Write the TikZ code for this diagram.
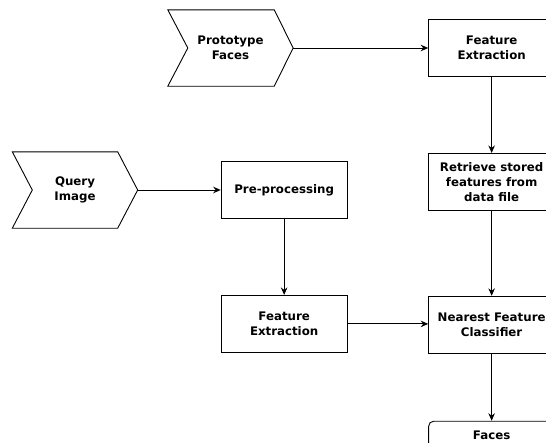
\documentclass[tikz,border=0pt]{standalone}
\usepackage{fontspec}
\setmainfont{DejaVu Sans}
\usetikzlibrary{arrows.meta,positioning}

\begin{document}
\begin{tikzpicture}[x=1pt, y=-1pt,
        every node/.style={font=\fontsize{11.8}{15}\selectfont\bfseries, align=center},
        FRS/.style={rectangle, draw=black, line width=0.9pt, minimum width=126pt, minimum height=57pt, inner sep=2pt},  % face recognition step
        Input/.style={rectangle, minimum width=125pt, minimum height=76pt, inner sep=0pt},
        Line/.style={draw=black, line width=0.9pt},
        >={Stealth[length=7.5pt, width=6.5pt]},
    ]
        \useasboundingbox (0,0) rectangle (546,442);
        \clip (0,0) rectangle (546,442);

        %Nodes
        \node[Input] (Proto) at (230.5,48) {Prototype\\Faces};
        \node[FRS] (FeatTop) [right=135pt of Proto] {Feature\\Extraction};
        \node[FRS] (Retrieve) [below=76pt of FeatTop] {Retrieve stored\\features from\\data file};
        \node[FRS] (Nearest) [below=85pt of Retrieve] {Nearest Feature\\Classifier};
        \node[FRS, rounded corners=5pt, text height=16pt, text depth=45pt] (Faces) [below=67pt of Nearest] {Faces};
        \node[Input] (Query) at (75,190) {Query\\Image};
        \node[FRS] (Pre) [right=83pt of Query] {Pre-processing};
        \node[FRS] (FeatLow) [below=76pt of Pre] {Feature\\Extraction};

        %Input shapes
        \draw[Line] (Proto.north west) -- ([xshift=-19pt]Proto.north east) -- (Proto.east) -- ([xshift=-19pt]Proto.south east) -- (Proto.south west) -- ([xshift=20pt]Proto.west) -- cycle;
        \draw[Line] (Query.north west) -- ([xshift=-20pt]Query.north east) -- (Query.east) -- ([xshift=-20pt]Query.south east) -- (Query.south west) -- ([xshift=20pt]Query.west) -- cycle;

        %Lines
        \draw[Line, ->] (Proto.east) to (FeatTop.west);
        \draw[Line, ->] (FeatTop.south) to (Retrieve.north);
        \draw[Line, ->] (Retrieve.south) to (Nearest.north);
        \draw[Line, ->] (Nearest.south) to (Faces.north);
        \draw[Line, ->] (Query.east) to (Pre.west);
        \draw[Line, ->] (Pre.south) to (FeatLow.north);
        \draw[Line, ->] (FeatLow.east) to (FeatLow.east -| Nearest.west);
    \end{tikzpicture}
\end{document}
